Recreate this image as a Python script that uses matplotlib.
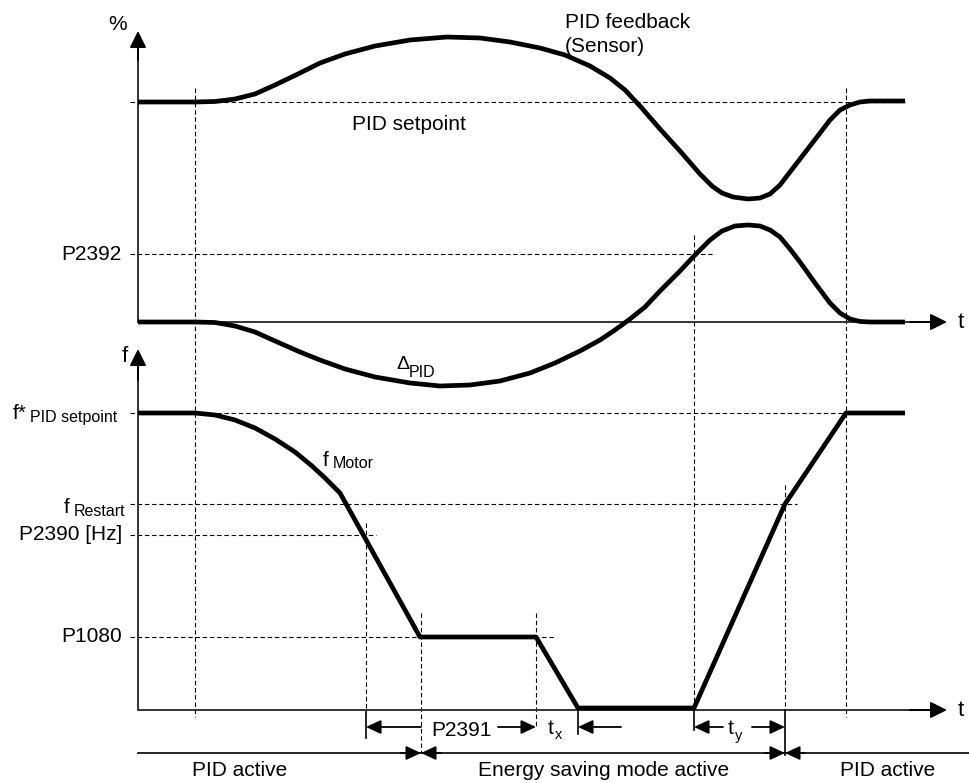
import matplotlib.pyplot as plt

# everything is in picture pixels (x right, y down)
feedback_x = [138, 195, 215, 235, 255, 275, 300, 320, 345, 375, 410, 447, 480, 510, 540, 565,
              590, 610, 625, 640, 660, 680, 700, 712, 722, 733, 748, 760, 770, 780, 790,
              800, 817, 830, 840, 850, 860, 870, 905]
feedback_y = [102, 102, 101.5, 99, 94, 85, 73, 63, 54, 46, 40, 37, 38, 42, 48, 55,
              66, 78, 90, 106, 129, 151, 174, 186, 193, 197, 199, 198, 194, 185, 172,
              159, 137, 120, 110, 105, 102, 101, 101]

delta_x = [138, 195, 215, 235, 255, 275, 300, 320, 345, 375, 410, 440, 470, 500, 530, 555,
           580, 600, 615, 630, 645, 660, 680, 694, 710, 722, 735, 748, 760, 770, 780,
           790, 800, 815, 830, 840, 850, 860, 870, 905]
delta_y = [322, 322, 322.5, 326, 332, 341, 352, 360, 369, 377, 383, 386, 385, 381, 373, 363,
           351, 340, 330, 319, 307, 291, 271, 256, 240, 231, 226, 225, 226, 230, 237,
           249, 262, 283, 303, 313, 319, 321.5, 322, 322]

motor_x = [138, 195, 215, 235, 255, 275, 295, 312, 325, 333, 340, 420, 536, 578, 694, 785, 846, 905]
motor_y = [413, 413, 415, 420, 428, 439, 452, 466, 478, 486, 493, 637, 637, 708, 708, 504, 413, 413]

# horizontal reference levels
pct_labels = ["P2392"]
pct_levels = [254]
f_labels = ["P2390 [Hz]", "P1080"]
f_levels = [535, 637]
setpoint_f_y = 413
restart_f_y = 504
hline_y = [102, 254, 413, 504, 535, 637]
hline_end = [905, 712, 846, 797, 376, 555]

# vertical dashed markers
vline_x = [195, 694, 846, 785, 366, 421, 536]
vline_top = [88, 235, 88, 485, 523, 613, 613]
vline_bottom = [717, 710, 717, 710, 712, 753, 727]

# timeline phases
phase_labels = ["PID active", "Energy saving mode active", "PID active"]
phase_centers = [240, 604, 888]
phase_bounds = [421, 785]


def arrow(ax, start, end, hl=0.9, hw=0.42, lw=1.3, color="black"):
    ax.annotate("", xy=end, xytext=start,
                arrowprops=dict(arrowstyle=f"-|>,head_length={hl},head_width={hw}",
                                lw=lw, color=color, shrinkA=0, shrinkB=0,
                                mutation_scale=10))


def main():
    plt.rcParams["font.family"] = ["Liberation Sans", "DejaVu Sans"]
    fig = plt.figure(figsize=(9.7, 7.83), dpi=100)
    ax = fig.add_axes([0, 0, 1, 1])
    ax.set_xlim(0, 970)
    ax.set_ylim(783, 0)
    ax.axis("off")

    dash = dict(color="black", lw=0.8, linestyle=(0, (4, 2.5)))
    axis_col = "#333333"
    big = 15
    sub = 11.5

    # dashed guides
    for y, xe in zip(hline_y, hline_end):
        ax.plot([130, xe], [y, y], **dash)
    for x, y0, y1 in zip(vline_x, vline_top, vline_bottom):
        ax.plot([x, x], [y0, y1], **dash)

    # axes
    ax.plot([138, 138], [322, 45], color=axis_col, lw=1.4)
    arrow(ax, (138, 60), (138, 31), hl=1.0, hw=0.5, lw=1.4)
    ax.plot([138, 935], [322, 322], color=axis_col, lw=1.4)
    arrow(ax, (910, 322), (947, 322), hl=1.0, hw=0.5, lw=1.4)
    ax.plot([138, 138], [710, 363], color=axis_col, lw=1.4)
    arrow(ax, (138, 380), (138, 349), hl=1.0, hw=0.5, lw=1.4)
    ax.plot([138, 935], [710, 710], color=axis_col, lw=1.4)
    arrow(ax, (910, 710), (947, 710), hl=1.0, hw=0.5, lw=1.4)

    # curves
    curve = dict(color="black", lw=3.4, solid_joinstyle="round", solid_capstyle="butt")
    ax.plot(feedback_x, feedback_y, **curve)
    ax.plot(delta_x, delta_y, **curve)
    ax.plot(motor_x, motor_y, **curve)

    # axis labels
    ax.text(118, 25, "%", fontsize=big, ha="center", va="center")
    ax.text(125, 357, "f", fontsize=big + 1, ha="center", va="center")
    ax.text(958, 322, "t", fontsize=big + 1, ha="left", va="center")
    ax.text(958, 710, "t", fontsize=big + 1, ha="left", va="center")

    # level labels
    for lab, y in zip(pct_labels, pct_levels):
        ax.text(122, y, lab, fontsize=big, ha="right", va="center")
    for lab, y in zip(f_labels, f_levels):
        ax.text(122, y, lab, fontsize=big, ha="right", va="center")
    ax.text(13, setpoint_f_y + 6, "f*", fontsize=big, ha="left", va="baseline")
    ax.text(30, setpoint_f_y + 9, "PID setpoint", fontsize=sub, ha="left", va="baseline")
    ax.text(64, restart_f_y + 9, "f", fontsize=big, ha="left", va="baseline")
    ax.text(74, restart_f_y + 12, "Restart", fontsize=sub, ha="left", va="baseline")

    # curve labels
    ax.text(565, 22, "PID feedback", fontsize=big, ha="left", va="center")
    ax.text(565, 47, "(Sensor)", fontsize=big, ha="left", va="center")
    ax.text(352, 124, "PID setpoint", fontsize=big, ha="left", va="center")
    ax.text(396, 369, "\u0394", fontsize=big - 1, ha="left", va="baseline")
    ax.text(409, 377, "PID", fontsize=sub, ha="left", va="baseline")
    ax.text(323, 466, "f", fontsize=big, ha="left", va="baseline")
    ax.text(333, 468, "Motor", fontsize=sub, ha="left", va="baseline")

    # timing arrows
    ty = 727
    ax.plot([366, 366], [712, 738], color="black", lw=1.2)
    ax.plot([578, 578], [710, 734], color="black", lw=1.2)
    ax.plot([694, 694], [710, 730], color="black", lw=1.2)
    ax.plot([785, 785], [710, 755], color="black", lw=1.2)
    arrow(ax, (421, ty), (366, ty))
    ax.text(461, ty + 3, "P2391", fontsize=big, ha="center", va="center")
    arrow(ax, (498, ty), (536, ty))
    ax.text(548, ty + 2, "t", fontsize=big, ha="left", va="center")
    ax.text(555, ty + 12, "x", fontsize=sub - 1, ha="left", va="baseline")
    arrow(ax, (621, ty), (578, ty))
    arrow(ax, (723, ty), (694, ty))
    ax.text(728, ty + 2, "t", fontsize=big, ha="left", va="center")
    ax.text(735, ty + 13, "y", fontsize=sub - 1, ha="left", va="baseline")
    arrow(ax, (752, ty), (785, ty))

    # phase timeline
    by = 753
    ax.plot([138, 970], [by, by], color="black", lw=1.2)
    for b in phase_bounds:
        arrow(ax, (b - 20, by), (b, by))
        arrow(ax, (b + 20, by), (b, by))
    for lab, xc in zip(phase_labels, phase_centers):
        ax.text(xc, 771, lab, fontsize=big, ha="center", va="center")

    fig.savefig("out.png", dpi=100)


if __name__ == "__main__":
    main()
